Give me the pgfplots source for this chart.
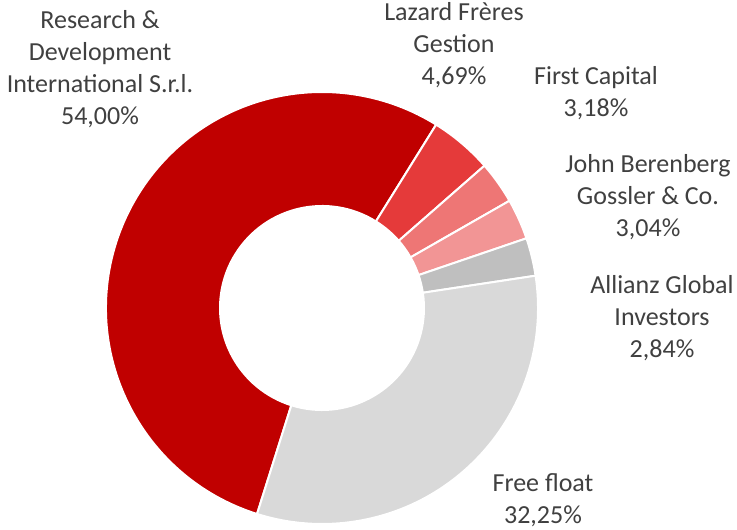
\documentclass[border=0pt]{standalone}
\usepackage{fontspec}
\setmainfont{Carlito}
\usepackage{pgfplots}
\usepackage{pgfplotstable}
\pgfplotsset{compat=1.18}
\definecolor{cR}{HTML}{C00000}
\definecolor{cL}{HTML}{E53A3A}
\definecolor{cF}{HTML}{EE7675}
\definecolor{cJ}{HTML}{F29595}
\definecolor{cA}{HTML}{BFBFBF}
\definecolor{cG}{HTML}{D9D9D9}
\definecolor{txt}{HTML}{404040}
\tikzset{lbl/.style={font=\fontsize{13}{16}\selectfont, text=txt, align=center, inner sep=0pt}}
\pgfplotstableread{
name value color
Research 54.00 cR
Lazard 4.69 cL
First 3.18 cF
John 3.04 cJ
Allianz 2.84 cA
Free 32.25 cG
}\shares
\xdef\cum{252.5}
\foreach \i in {0,...,5}{%
  \pgfplotstablegetelem{\i}{value}\of\shares \let\v\pgfplotsretval
  \pgfplotstablegetelem{\i}{color}\of\shares \let\c\pgfplotsretval
  \pgfmathsetmacro\e{\cum-3.6*\v}%
  \expandafter\xdef\csname sliceS\i\endcsname{\cum}%
  \expandafter\xdef\csname sliceE\i\endcsname{\e}%
  \expandafter\xdef\csname sliceC\i\endcsname{\c}%
  \xdef\cum{\e}%
}
\newcommand\slice[1]{%
  \fill[fill=\csname sliceC#1\endcsname, draw=white, line width=1pt]
   (axis cs:{322+216*cos(\csname sliceS#1\endcsname)},{221+216*sin(\csname sliceS#1\endcsname)})
   arc[start angle=\csname sliceS#1\endcsname, end angle=\csname sliceE#1\endcsname, radius=108pt]
   -- (axis cs:{322+102*cos(\csname sliceE#1\endcsname)},{221+102*sin(\csname sliceE#1\endcsname)})
   arc[start angle=\csname sliceE#1\endcsname, end angle=\csname sliceS#1\endcsname, radius=51pt]
   -- cycle;}
\begin{document}
\begin{tikzpicture}
\begin{axis}[
  width=368.5pt, height=264.5pt, scale only axis,
  xmin=0, xmax=737, ymin=0, ymax=529,
  hide axis, clip=false,
]
\slice{0}\slice{1}\slice{2}\slice{3}\slice{4}\slice{5}
\node[lbl] at (axis cs:100,460) {Research \&\\Development\\International S.r.l.\\54,00\%};
\node[lbl] at (axis cs:454,484) {Lazard Frères\\Gestion\\4,69\%};
\node[lbl] at (axis cs:596,436) {First Capital\\3,18\%};
\node[lbl] at (axis cs:648,332) {John Berenberg\\Gossler \& Co.\\3,04\%};
\node[lbl] at (axis cs:662,211) {Allianz Global\\Investors\\2,84\%};
\node[lbl] at (axis cs:543,29) {Free float\\32,25\%};
\end{axis}
\useasboundingbox (0,0) rectangle (368.5pt,264.5pt);
\end{tikzpicture}
\end{document}
